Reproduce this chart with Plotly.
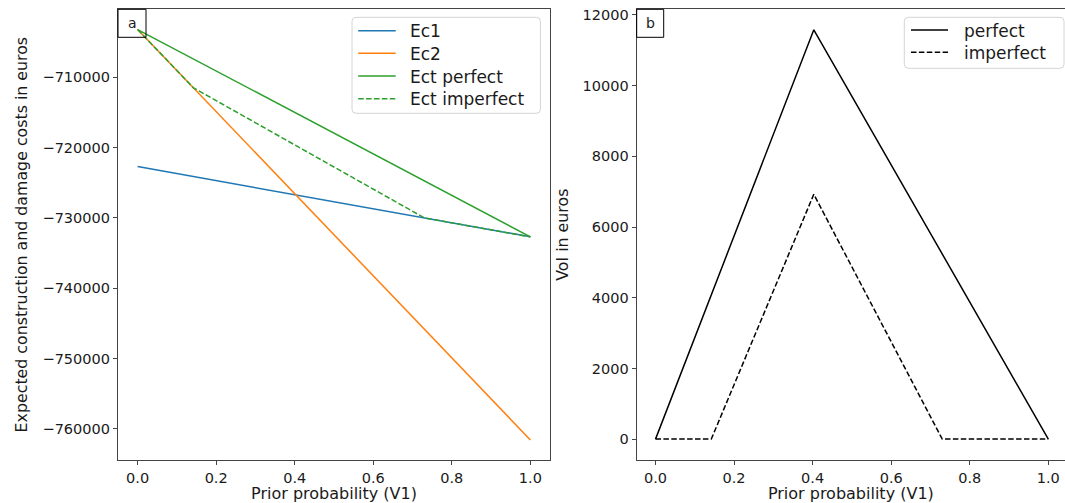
import plotly.graph_objects as go

# ---------------- data ----------------
prob = [0.0, 1.0]
ec1 = [-722700, -732700]
ec2 = [-703200, -761600]
ect_perfect = [-703200, -732700]
prob_imperfect = [0.0, 0.142, 0.73, 1.0]
ect_imperfect = [-703200, -711490, -730000, -732700]

voi_prob_perfect = [0.0, 0.403, 1.0]
voi_perfect = [0, 11580, 0]
voi_prob_imperfect = [0.0, 0.142, 0.403, 0.73, 1.0]
voi_imperfect = [0, 0, 6927, 0, 0]

x_ticks = [0.0, 0.2, 0.4, 0.6, 0.8, 1.0]
x_ticktext = ["0.0", "0.2", "0.4", "0.6", "0.8", "1.0"]
y1_ticks = [-710000, -720000, -730000, -740000, -750000, -760000]
y1_ticktext = ["\u2212" + str(abs(v)) for v in y1_ticks]
y2_ticks = [0, 2000, 4000, 6000, 8000, 10000, 12000]
y2_ticktext = [str(v) for v in y2_ticks]

# ---------------- styling ----------------
W, H = 1065, 503
FONT = "DejaVu Sans"
TXT = "#1a1a1a"
AX = "#444444"
BLUE, ORANGE, GREEN = "#1f77b4", "#ff7f0e", "#2ca02c"
DASH = "5.5px,2.4px"

L_LEFT, L_RIGHT = 118, 550
R_LEFT = 636.7
TOP, BOTTOM = 9.3, 460

left_series = [
    dict(x=prob, y=ec1, name="Ec1", color=BLUE, dash="solid"),
    dict(x=prob, y=ec2, name="Ec2", color=ORANGE, dash="solid"),
    dict(x=prob, y=ect_perfect, name="Ect perfect", color=GREEN, dash="solid"),
    dict(x=prob_imperfect, y=ect_imperfect, name="Ect imperfect", color=GREEN, dash=DASH),
]
right_series = [
    dict(x=voi_prob_perfect, y=voi_perfect, name="perfect", color="black", dash="solid"),
    dict(x=voi_prob_imperfect, y=voi_imperfect, name="imperfect", color="black", dash=DASH),
]

fig = go.Figure()
for s in left_series:
    fig.add_trace(go.Scatter(x=s["x"], y=s["y"], mode="lines", name=s["name"],
                             line=dict(color=s["color"], width=1.5, dash=s["dash"]),
                             xaxis="x", yaxis="y", showlegend=False))
for s in right_series:
    fig.add_trace(go.Scatter(x=s["x"], y=s["y"], mode="lines", name=s["name"],
                             line=dict(color=s["color"], width=1.5, dash=s["dash"]),
                             xaxis="x2", yaxis="y2", showlegend=False))

ydom = [(H - BOTTOM) / H, (H - TOP) / H]

common_axis = dict(showgrid=False, zeroline=False, showline=True, linecolor=AX, linewidth=1.2,
                   ticks="outside", ticklen=4, tickwidth=1, tickcolor=AX,
                   tickfont=dict(family=FONT, size=14.5, color=TXT), automargin=False)
xtitle_font = dict(family=FONT, size=16, color=TXT)
ytitle_font = dict(family=FONT, size=15.8, color=TXT)

fig.update_layout(
    width=W, height=H, autosize=False,
    margin=dict(l=0, r=0, t=0, b=0),
    paper_bgcolor="white", plot_bgcolor="white",
    font=dict(family=FONT, color=TXT),
    showlegend=False,
    xaxis=dict(domain=[L_LEFT / W, L_RIGHT / W], range=[-0.05, 1.05], anchor="y",
               tickmode="array", tickvals=x_ticks, ticktext=x_ticktext, mirror=True,
               title=dict(text="Prior probability (V1)", font=xtitle_font, standoff=4),
               **common_axis),
    yaxis=dict(domain=ydom, range=[-764450, -700320], anchor="x",
               tickmode="array", tickvals=y1_ticks, ticktext=y1_ticktext, mirror=True,
               title=dict(text="Expected construction and damage costs in euros",
                          font=ytitle_font, standoff=10),
               **common_axis),
    xaxis2=dict(domain=[R_LEFT / W, 1.0], range=[-0.0479, 1.0425], anchor="y2",
                tickmode="array", tickvals=x_ticks, ticktext=x_ticktext, mirror=True,
                title=dict(text="Prior probability (V1)", font=xtitle_font, standoff=4),
                **common_axis),
    yaxis2=dict(domain=ydom, range=[-591, 12161], anchor="x2",
                tickmode="array", tickvals=y2_ticks, ticktext=y2_ticktext, mirror=False,
                title=dict(text="VoI in euros", font=ytitle_font, standoff=10),
                **common_axis),
)


# ---------------- legends (drawn like matplotlib's) ----------------
def px(x):
    return x / W


def py(y):
    return 1 - y / H


def rounded_box(x0, y0, x1, y1, r=4):
    rx, ry = r / W, r / H
    X0, X1, Y0, Y1 = px(x0), px(x1), py(y0), py(y1)  # Y0 top, Y1 bottom in paper
    return (f"M{X0 + rx},{Y0} L{X1 - rx},{Y0} Q{X1},{Y0} {X1},{Y0 - ry} "
            f"L{X1},{Y1 + ry} Q{X1},{Y1} {X1 - rx},{Y1} "
            f"L{X0 + rx},{Y1} Q{X0},{Y1} {X0},{Y1 + ry} "
            f"L{X0},{Y0 - ry} Q{X0},{Y0} {X0 + rx},{Y0} Z")


def draw_legend(series, box, rows, sample_x, text_x, fsize):
    fig.add_shape(type="path", xref="paper", yref="paper", path=rounded_box(*box),
                  line=dict(color="#d4d4d4", width=1), fillcolor="rgba(255,255,255,0.8)",
                  layer="above")
    for s, ry in zip(series, rows):
        fig.add_shape(type="line", xref="paper", yref="paper",
                      x0=px(sample_x[0]), x1=px(sample_x[1]), y0=py(ry), y1=py(ry),
                      line=dict(color=s["color"], width=1.5, dash=s["dash"]), layer="above")
        fig.add_annotation(xref="paper", yref="paper", x=px(text_x), y=py(ry + 0.5),
                           text=s["name"], showarrow=False, xanchor="left", yanchor="middle",
                           font=dict(family=FONT, size=fsize, color=TXT))


draw_legend(left_series, (352, 17.3, 540.4, 113.3), [30.7, 53.3, 76.0, 98.7],
            (358.2, 395.7), 408, 17)
draw_legend(right_series, (904.3, 17.3, 1064, 68.3), [30.0, 52.3],
            (911, 948), 962, 17)

# panel labels "a" and "b" in boxes
fig.add_shape(type="rect", xref="x domain", yref="y domain",
              x0=0, x1=28 / (L_RIGHT - L_LEFT), y0=1 - 28 / (BOTTOM - TOP), y1=1,
              line=dict(color="black", width=1), fillcolor="rgba(255,255,255,0)", layer="above")
fig.add_annotation(xref="x domain", yref="y domain", x=14 / (L_RIGHT - L_LEFT), y=1 - 14 / (BOTTOM - TOP),
                   text="a", showarrow=False, font=dict(family=FONT, size=14, color=TXT),
                   xanchor="center", yanchor="middle")
fig.add_shape(type="rect", xref="x2 domain", yref="y2 domain",
              x0=0, x1=27 / (W - R_LEFT), y0=1 - 28 / (BOTTOM - TOP), y1=1,
              line=dict(color="black", width=1), fillcolor="rgba(255,255,255,0)", layer="above")
fig.add_annotation(xref="x2 domain", yref="y2 domain", x=13.5 / (W - R_LEFT), y=1 - 14 / (BOTTOM - TOP),
                   text="b", showarrow=False, font=dict(family=FONT, size=14, color=TXT),
                   xanchor="center", yanchor="middle")

fig.write_html("out.html")
